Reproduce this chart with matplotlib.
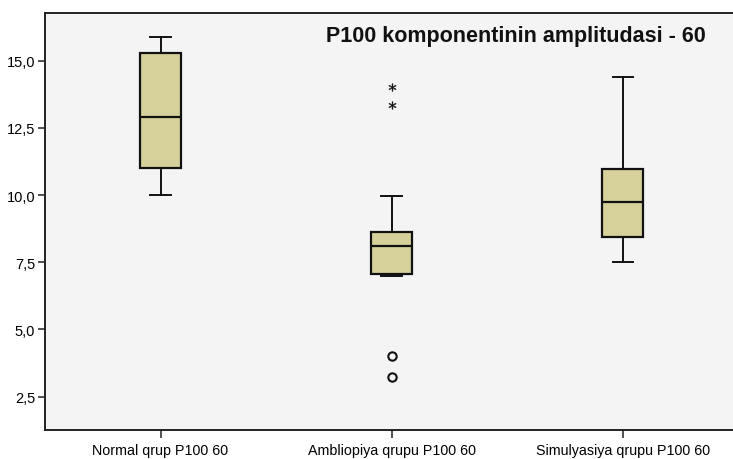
import matplotlib
matplotlib.use("Agg")
import matplotlib.pyplot as plt

plt.rcParams["font.family"] = ["Liberation Sans", "DejaVu Sans"]

# ── Data ────────────────────────────────────────────────────────────────
groups = ["Normal qrup P100 60", "Ambliopiya qrupu P100 60", "Simulyasiya qrupu P100 60"]
whisker_low = [10.0, 6.98, 7.51]
q1 = [11.0, 7.06, 8.43]
median = [12.92, 8.09, 9.74]
q3 = [15.30, 8.63, 10.98]
whisker_high = [15.87, 9.97, 14.38]
outliers = [[], [4.01, 3.24], []]        # drawn as open circles
extremes = [[], [14.01, 13.33], []]      # drawn as stars
title = "P100 komponentinin amplitudasi - 60"
yticks = [2.5, 5.0, 7.5, 10.0, 12.5, 15.0]

BOX_COLOR = "#d6d19b"
BG_COLOR = "#f4f4f4"
EDGE = "#111111"

fig = plt.figure(figsize=(7.33, 4.60), dpi=100)
ax = fig.add_axes([45 / 733, 1 - 431 / 460, 1 - 45 / 733, (431 - 14) / 460])
ax.set_facecolor(BG_COLOR)

positions = list(range(1, len(groups) + 1))
stats = []
for i, name in enumerate(groups):
    stats.append({
        "label": name,
        "whislo": whisker_low[i],
        "q1": q1[i],
        "med": median[i],
        "q3": q3[i],
        "whishi": whisker_high[i],
        "fliers": [],
    })

ax.bxp(
    stats, positions=positions, widths=0.175, patch_artist=True,
    showfliers=False,
    boxprops=dict(facecolor=BOX_COLOR, edgecolor=EDGE, linewidth=1.6),
    medianprops=dict(color=EDGE, linewidth=1.6),
    whiskerprops=dict(color=EDGE, linewidth=1.4),
    capprops=dict(color=EDGE, linewidth=1.4),
    capwidths=0.087,
)

for pos, vals in zip(positions, outliers):
    if vals:
        ax.plot([pos] * len(vals), vals, linestyle="none", marker="o",
                markersize=6, markerfacecolor="none",
                markeredgecolor=EDGE, markeredgewidth=1.5)

for pos, vals in zip(positions, extremes):
    if vals:
        ax.plot([pos] * len(vals), vals, linestyle="none", marker="$*$",
                markersize=5.5, color=EDGE, markeredgewidth=0.3)

ax.set_xlim(0.5, 3.478)
ax.set_ylim(1.26, 16.77)
ax.set_yticks(yticks)
ax.set_yticklabels([f"{v:.1f}".replace(".", ",") for v in yticks])
ax.set_xticks(positions)
ax.set_xticklabels(groups)

ax.tick_params(axis="y", direction="out", length=5, width=1.1,
               labelsize=10.5, color="#222222", pad=2)
ax.tick_params(axis="x", direction="out", length=6, width=1.1,
               labelsize=10.3, color="#222222", pad=3.5)

for side in ("left", "bottom", "top"):
    ax.spines[side].set_linewidth(1.4)
    ax.spines[side].set_color("#222222")
ax.spines["right"].set_visible(False)

ax.text(0.961, 0.947, title, transform=ax.transAxes, ha="right", va="center",
        fontsize=15.5, fontweight="bold", color="#111111")

fig.savefig("out.png", dpi=100, facecolor="white")
